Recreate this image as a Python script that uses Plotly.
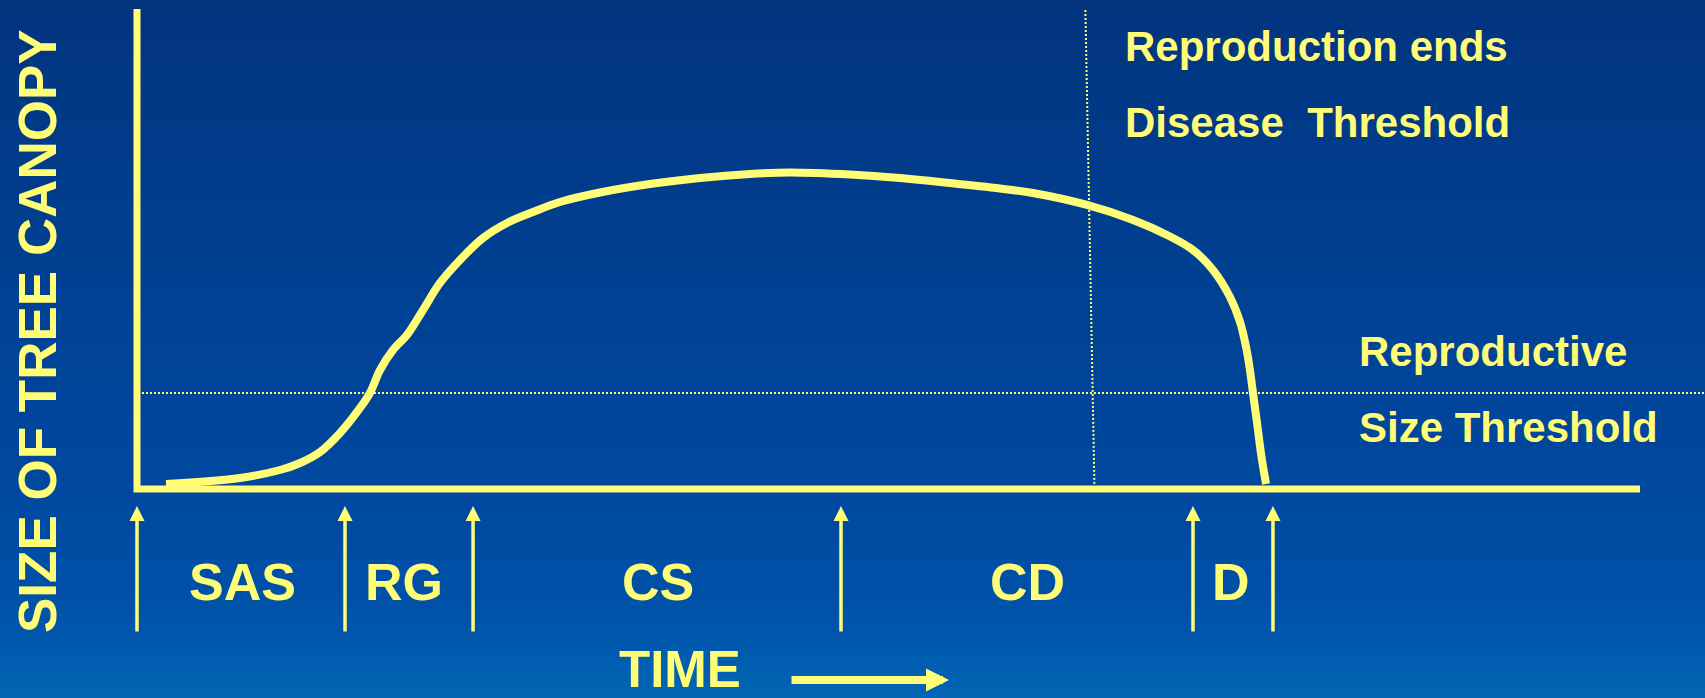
import plotly.graph_objects as go

# ---------------- data (time 0-100 along the axis, canopy size 0-100) ----------------
curve_time = [1.93, 6.85, 9.51, 10.85, 12.18, 13.51, 14.84, 15.50, 16.17, 17.03, 17.96,
              19.03, 20.16, 21.49, 23.02, 24.62, 26.35, 28.14, 30.80, 34.13, 37.46, 40.79,
              43.45, 47.44, 50.77, 54.09, 57.42, 59.61, 63.21, 66.27, 68.53, 70.26, 71.59,
              72.72, 73.39, 73.79, 74.05, 74.25, 74.52, 74.78, 74.98, 75.12]
curve_size = [1.04, 2.29, 3.96, 5.42, 7.71, 11.67, 16.88, 20.0, 24.79, 28.96, 32.08,
              37.29, 42.92, 47.71, 52.29, 55.42, 57.71, 59.79, 61.77, 63.54, 64.79, 65.63,
              65.94, 65.52, 64.79, 63.75, 62.60, 61.67, 59.17, 56.04, 52.92, 49.79, 45.63,
              40.0, 34.79, 29.58, 24.79, 20.0, 13.75, 7.5, 3.54, 1.04]

stage_names = ["SAS", "RG", "CS", "CD", "D"]
stage_boundaries = [0, 13.84, 22.36, 46.84, 70.26, 75.58]
stage_label_time = [6.99, 17.76, 34.66, 59.28, 72.79]

reproductive_size_threshold = 20.0
reproduction_end_time_top = 63.1
reproduction_end_time_bottom = 63.7

axis_time = [0, 0, 100]
axis_size = [100, 0, 0]

# ---------------- style ----------------
YEL = "#FFFC78"
FONT = "Liberation Sans"
W, H = 1705, 698
PX_PER_T = 15.03
PX_PER_S = 4.8
X0, Y0 = 137, 489  # pixel of origin

x_range = [-X0 / PX_PER_T, (W - X0) / PX_PER_T]
y_range = [(Y0 - H) / PX_PER_S, Y0 / PX_PER_S]

fig = go.Figure()

# axes drawn as a line
fig.add_trace(go.Scatter(x=axis_time, y=axis_size, mode="lines",
                         line=dict(color=YEL, width=7), hoverinfo="skip"))
# reproductive size threshold (dotted horizontal)
fig.add_trace(go.Scatter(x=[0.33, x_range[1]],
                         y=[reproductive_size_threshold, reproductive_size_threshold],
                         mode="lines", line=dict(color=YEL, width=2, dash="2px,2px"),
                         hoverinfo="skip"))
# reproduction ends (dotted vertical)
fig.add_trace(go.Scatter(x=[reproduction_end_time_top, reproduction_end_time_bottom],
                         y=[99.8, 1.0], mode="lines",
                         line=dict(color=YEL, width=2, dash="2px,2px"), hoverinfo="skip"))
# canopy curve
fig.add_trace(go.Scatter(x=curve_time, y=curve_size, mode="lines",
                         line=dict(color=YEL, width=8, shape="spline", smoothing=1.0),
                         hoverinfo="skip"))

# background gradient stripes
stops = [(0.0, (0x02, 0x34, 0x7E)), (0.25, (0x01, 0x3C, 0x8B)), (0.5, (0x00, 0x43, 0x97)),
         (0.7, (0x00, 0x48, 0x9F)), (0.85, (0x00, 0x50, 0xA7)), (0.92, (0x00, 0x58, 0xAD)),
         (1.0, (0x03, 0x66, 0xB4))]


def col_at(f):
    for (f0, c0), (f1, c1) in zip(stops[:-1], stops[1:]):
        if f0 <= f <= f1:
            u = (f - f0) / (f1 - f0) if f1 > f0 else 0
            c = [round(a + (b - a) * u) for a, b in zip(c0, c1)]
            return "rgb(%d,%d,%d)" % tuple(c)
    return "rgb(%d,%d,%d)" % stops[-1][1]


shapes = []
N = 140
for i in range(N):
    top = 1 - i / N
    bot = 1 - (i + 1.3) / N
    shapes.append(dict(type="rect", xref="paper", yref="paper", x0=0, x1=1,
                       y0=max(bot, 0), y1=top, fillcolor=col_at((i + 0.5) / N),
                       line=dict(width=0), layer="below"))

annotations = []
# stage arrows
for t in stage_boundaries:
    annotations.append(dict(x=t, y=(Y0 - 506) / PX_PER_S, ax=t, ay=(Y0 - 633) / PX_PER_S,
                            xref="x", yref="y", axref="x", ayref="y", text="",
                            showarrow=True, arrowhead=2, arrowsize=0.86, arrowwidth=3.5,
                            arrowcolor=YEL, standoff=0))
# stage labels
for name, t in zip(stage_names, stage_label_time):
    annotations.append(dict(x=t, y=(Y0 - 582) / PX_PER_S, xref="x", yref="y", text=name,
                            showarrow=False, xanchor="center", yanchor="middle",
                            font=dict(family=FONT, size=52, color=YEL, weight="bold")))

# right-side texts
for txt, px, py in [("Reproduction ends", 1123, 46.5),
                    ("Disease\u00a0 Threshold", 1123, 123),
                    ("Reproductive", 1357, 351.5),
                    ("Size Threshold", 1357, 427)]:
    annotations.append(dict(x=px / W, y=1 - py / H, xref="paper", yref="paper", text=txt,
                            showarrow=False, xanchor="left", yanchor="middle",
                            font=dict(family=FONT, size=42, color=YEL, weight="bold")))

# y title
annotations.append(dict(x=37 / W, y=1 - 331 / H, xref="paper", yref="paper",
                        text="SIZE OF TREE CANOPY", textangle=-90, showarrow=False,
                        xanchor="center", yanchor="middle",
                        font=dict(family=FONT, size=53, color=YEL, weight="bold")))
# TIME label and arrow
annotations.append(dict(x=680 / W, y=1 - 669 / H, xref="paper", yref="paper", text="TIME",
                        showarrow=False, xanchor="center", yanchor="middle",
                        font=dict(family=FONT, size=51, color=YEL, weight="bold")))
annotations.append(dict(x=949 / W, y=1 - 680 / H, xref="paper", yref="paper", text="",
                        ax=-159, ay=0, showarrow=True, arrowhead=2, arrowsize=0.575,
                        arrowwidth=8, arrowcolor=YEL, standoff=0))

fig.update_layout(
    width=W, height=H, margin=dict(l=0, r=0, t=0, b=0),
    paper_bgcolor="#004397", plot_bgcolor="rgba(0,0,0,0)",
    showlegend=False, shapes=shapes, annotations=annotations,
    xaxis=dict(range=x_range, visible=False, fixedrange=True),
    yaxis=dict(range=y_range, visible=False, fixedrange=True),
)

fig.write_html("out.html", config={"displayModeBar": False},
               post_script="document.body.style.margin='0';document.body.style.overflow='hidden';")
